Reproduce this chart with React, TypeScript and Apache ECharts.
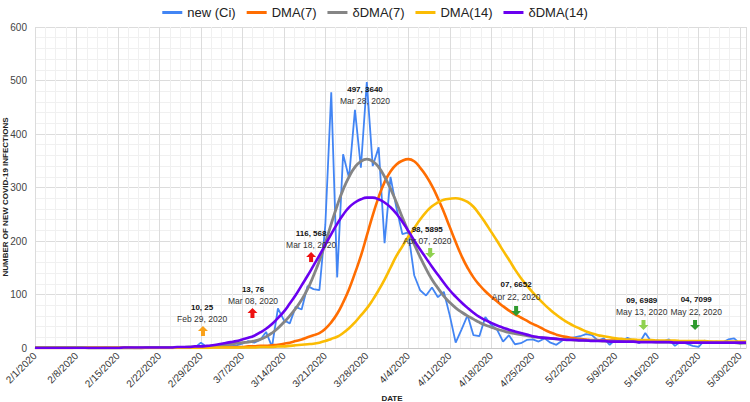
import React, { useEffect, useRef } from 'react';
import * as echarts from 'echarts';

// x tick labels (one every 7 days, day 0 = 2/1/2020)
const tickLabels = [
  '2/1/2020', '2/8/2020', '2/15/2020', '2/22/2020', '2/29/2020', '3/7/2020',
  '3/14/2020', '3/21/2020', '3/28/2020', '4/4/2020', '4/11/2020', '4/18/2020',
  '4/25/2020', '5/2/2020', '5/9/2020', '5/16/2020', '5/23/2020', '5/30/2020',
];

const seriesNames = ['new (Ci)', 'DMA(7)', 'δDMA(7)', 'DMA(14)', 'δDMA(14)'];

// daily values, day 0 = 2/1/2020 ... day 120 = 5/31/2020
const newCi = [
  2, 1, 0, 0, 1, 0, 0, 1, 0, 0, 0, 0, 1, 0, 0, 1, 0, 0, 0, 1, 0, 0, 1, 1, 2, 1, 1, 1,
  10, 2, 3, 5, 9, 6, 5, 8, 13,
  10, 15, 30, 2,
  74, 52, 46, 77, 72, 116,
  110, 108, 230, 478, 132, 362, 318, 445, 337, 497,
  340, 375, 196, 320, 262, 213, 216, 136, 108, 98,
  113, 95, 105, 61, 10, 35, 61, 24, 22, 58, 43, 34, 12, 24, 7,
  9, 15, 16, 12, 18, 10, 6, 14, 18, 20, 22, 26, 24, 14, 18, 6, 16, 12, 19, 14,
  9, 28, 12, 14, 12, 16, 4, 12, 8, 4, 2, 14, 10, 12, 10, 16, 18, 8, 10,
];

const dma7 = [
  0, 0, 0, 0, 0, 0, 0, 1, 1, 1, 1, 1, 1, 1, 1, 1, 1, 0, 0, 0, 0, 0, 0, 0, 1, 1, 1, 1,
  1, 1, 2, 2, 2, 2, 2, 2,
  3, 3, 4, 4, 5, 6, 8, 10, 13, 16,
  20, 24, 28, 36, 48, 64, 85, 110, 140, 172,
  210, 248, 282, 310, 330, 343, 350, 353, 349, 337,
  322, 303, 280, 254, 226, 198, 172, 150, 132, 118,
  106, 96, 87, 78, 70, 63, 57, 51, 45, 40,
  34, 29, 25, 22, 20, 18, 17, 16, 15, 15,
  14, 14, 14, 13, 13, 13, 13, 13, 12, 12,
  12, 12, 12, 11, 11, 11, 11, 11, 11, 10,
  10, 10, 10, 10, 10,
];

const dma7c = [
  1, 1, 1, 1, 1, 1, 1, 1, 1, 0, 0, 0, 0, 0, 0, 0, 0, 0, 0, 1, 1, 1, 1, 1, 1, 1, 2, 2,
  3, 3, 4, 5, 6, 7, 9, 10,
  11, 13, 16, 21, 28, 37, 48, 60, 74, 90,
  110, 135, 163, 196, 232, 266, 296, 320, 338, 349,
  353, 349, 338, 320, 298, 272, 244, 218, 194, 170,
  148, 128, 112, 97, 85, 75, 67, 60, 54, 48,
  43, 39, 35, 32, 29, 27, 25, 23, 21, 20,
  19, 18, 17, 16, 16, 15, 15, 14, 14, 14,
  13, 13, 13, 13, 12, 12, 12, 12, 12, 11,
  11, 11, 11, 11, 10, 10, 10, 10, 10, 10,
  10, 10, 10, 9, 9,
];

const dma14 = [
  0, 0, 0, 0, 0, 0, 0, 0, 0, 0, 0, 0, 0, 0, 0, 0, 0, 0, 0, 0, 0, 0, 0, 0, 0, 0, 0, 0,
  0, 0, 1, 1, 1, 1, 1, 1,
  1, 1, 2, 2, 2, 3, 3, 4, 5, 6,
  7, 8, 10, 13, 17, 21, 28, 37, 48, 61,
  74, 90, 108, 128, 150, 172, 190, 208, 224, 240,
  254, 265, 272, 277, 279, 280, 278, 273, 264, 250,
  234, 217, 200, 182, 165, 147, 131, 117, 104, 92,
  81, 71, 62, 54, 47, 41, 36, 31, 27, 24,
  22, 20, 18, 17, 16, 16, 15, 15, 15, 14,
  14, 14, 14, 13, 13, 13, 13, 13, 12, 12,
  12, 12, 12, 12, 12,
];

const dma14c = [
  0, 0, 0, 0, 0, 0, 0, 0, 0, 0, 0, 0, 0, 0, 0, 1, 1, 1, 1, 1, 1, 1, 1, 1, 2, 2, 2, 3,
  3, 4, 5, 7, 9, 11, 13, 16,
  19, 23, 29, 36, 45, 56, 68, 83, 99, 117,
  135, 154, 173, 193, 213, 232, 249, 263, 272, 278,
  281, 281, 278, 272, 263, 251, 236, 219, 201, 184,
  168, 152, 137, 122, 108, 96, 85, 75, 66, 58,
  52, 47, 42, 38, 34, 31, 28, 25, 22, 20,
  19, 18, 17, 16, 15, 15, 14, 14, 13, 13,
  13, 12, 12, 12, 12, 12, 11, 11, 11, 11,
  11, 11, 10, 10, 10, 10, 10, 10, 10, 10,
  10, 10, 10, 10, 10,
];

// annotation texts: "new, cumulative" and date
const annoHeads = ['10, 25', '13, 76', '116, 568', '497, 3640', '98, 5895', '07, 6652', '09, 6989', '04, 7099'];
const annoDates = ['Feb 29, 2020', 'Mar 08, 2020', 'Mar 18, 2020', 'Mar 28, 2020', 'Apr 07, 2020', 'Apr 22, 2020', 'May 13, 2020', 'May 22, 2020'];

const colors = ['#4285f4', '#ff6d01', '#858585', '#fbbc04', '#6a00f0'];

const UP = 'path://M3,10 L3,5 L0,5 L5,0 L10,5 L7,5 L7,10 Z';
const DOWN = 'path://M3,0 L3,5 L0,5 L5,10 L10,5 L7,5 L7,0 Z';

export default function App() {
  const ref = useRef<HTMLDivElement>(null);
  useEffect(() => {
    const chart = echarts.init(ref.current!, null, { renderer: 'svg' });
    const font = 'Liberation Sans, Arial, sans-serif';

    // label anchor points (data coords) for text blocks and arrows
    const textPos = [[28.2, 65.4], [36.8, 98.4], [46.6, 203], [55.7, 472.5], [66.2, 211], [81.2, 106.8], [102.4, 77.8], [111.6, 78.8]];
    const arrows = [
      { c: [28.35, 31.7], s: UP, col: '#f9a11b' },
      { c: [36.7, 65.4], s: UP, col: '#ee1111' },
      { c: [46.6, 169.9], s: UP, col: '#ee1111' },
      { c: [66.7, 177.4], s: DOWN, col: '#8fd14f' },
      { c: [81.2, 69.1], s: DOWN, col: '#2f9a2f' },
      { c: [102.7, 43], s: DOWN, col: '#8fd14f' },
      { c: [111.4, 43], s: DOWN, col: '#2f9a2f' },
    ];

    const markData: any[] = [];
    arrows.forEach((a) => {
      markData.push({
        coord: a.c,
        symbol: a.s,
        symbolSize: [10, 10],
        itemStyle: { color: a.col },
        label: { show: false },
      });
    });
    textPos.forEach((p, i) => {
      markData.push({
        coord: p,
        symbol: 'circle',
        symbolSize: 1,
        itemStyle: { color: 'rgba(0,0,0,0)' },
        label: {
          show: true,
          position: 'inside',
          formatter: `{h|${annoHeads[i]}}\n{d|${annoDates[i]}}`,
          rich: {
            h: { fontSize: 8, fontWeight: 'bold', color: '#111', lineHeight: 12, fontFamily: font, align: 'center' },
            d: { fontSize: 8.5, color: '#333', lineHeight: 12, fontFamily: font, align: 'center' },
          },
        },
      });
    });

    const data = [newCi, dma7, dma7c, dma14, dma14c];
    const widths = [1.8, 2.6, 2.8, 2.6, 2.6];

    const series: any[] = data.map((arr, k) => ({
      name: seriesNames[k],
      type: 'line',
      data: arr.map((v, i) => [i, v]),
      showSymbol: false,
      symbol: 'none',
      smooth: k === 0 ? false : true,
      lineStyle: { color: colors[k], width: widths[k] },
      itemStyle: { color: colors[k] },
      z: 2 + k,
    }));
    series[4].markPoint = { silent: true, data: markData, z: 10 };

    chart.setOption({
      animation: false,
      textStyle: { fontFamily: font },
      color: colors,
      legend: {
        top: 1,
        left: 'center',
        icon: 'rect',
        itemWidth: 20,
        itemHeight: 3,
        itemGap: 11,
        data: seriesNames,
        textStyle: { fontSize: 13, color: '#222', fontFamily: font },
      },
      grid: { left: 35, right: 4, top: 27, bottom: 54, containLabel: false },
      xAxis: {
        type: 'value',
        min: 0,
        max: 120,
        interval: 7,
        axisLine: { show: true, lineStyle: { color: '#c8c8c8' } },
        axisTick: { show: false },
        axisLabel: {
          rotate: 45,
          fontSize: 10,
          color: '#333',
          margin: 6,
          fontFamily: font,
          formatter: (v: number) => (v % 7 === 0 ? tickLabels[v / 7] ?? '' : ''),
        },
        splitLine: { show: true, lineStyle: { color: '#dcdcdc', width: 1 } },
        minorTick: { show: false, splitNumber: 4 },
        minorSplitLine: { show: true, lineStyle: { color: '#f0f0f0', width: 1 } },
      },
      yAxis: {
        type: 'value',
        min: 0,
        max: 600,
        interval: 100,
        axisLine: { show: false },
        axisTick: { show: false },
        axisLabel: { fontSize: 10, color: '#444', margin: 8, fontFamily: font },
        splitLine: { show: true, lineStyle: { color: '#dcdcdc', width: 1 } },
        minorTick: { show: false, splitNumber: 5 },
        minorSplitLine: { show: true, lineStyle: { color: '#f0f0f0', width: 1 } },
      },
      graphic: [
        {
          type: 'text',
          x: 5.5,
          y: 197,
          rotation: Math.PI / 2,
          style: {
            text: 'NUMBER OF NEW COVID-19 INFECTIONS',
            fontSize: 8,
            fontWeight: 'bold',
            fill: '#222',
            align: 'center',
            verticalAlign: 'middle',
            fontFamily: font,
          },
        },
        {
          type: 'text',
          x: 392,
          y: 398,
          style: {
            text: 'DATE',
            fontSize: 8,
            fontWeight: 'bold',
            fill: '#222',
            align: 'center',
            verticalAlign: 'middle',
            fontFamily: font,
          },
        },
      ],
      series,
    });
    return () => chart.dispose();
  }, []);
  return <div ref={ref} style={{ position: 'absolute', left: 0, top: 0, width: 750, height: 402 }} />;
}
